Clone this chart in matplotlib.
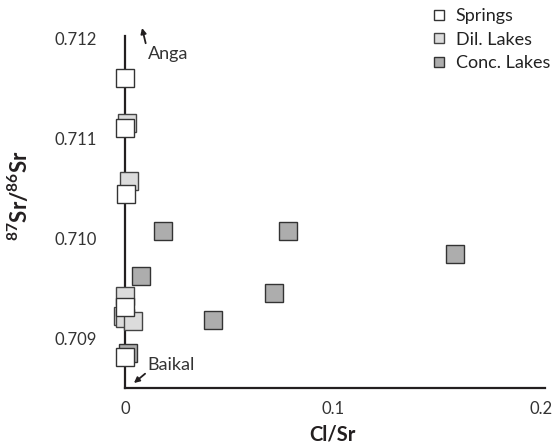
import matplotlib.pyplot as plt

plt.rcParams['font.family'] = ['Lato', 'DejaVu Sans']
plt.rcParams['mathtext.fontset'] = 'custom'
plt.rcParams['mathtext.rm'] = 'Lato'
plt.rcParams['mathtext.bf'] = 'Lato:bold'

# Cl/Sr vs 87Sr/86Sr
conc_x = [0.0015, 0.0183, 0.0784, 0.0077, 0.1587, 0.0719, 0.0423]
conc_y = [0.70885, 0.71007, 0.71007, 0.70962, 0.70984, 0.70945, 0.70918]

dil_x = [0.001, 0.002, 0.0, -0.001, 0.0, 0.004]
dil_y = [0.71115, 0.71057, 0.70942, 0.70922, 0.70920, 0.70917]

spr_x = [0.0, 0.0, 0.0005, 0.0, 0.0]
spr_y = [0.7116, 0.7111, 0.71044, 0.70931, 0.70881]

dark = '#231f20'
fig = plt.figure(figsize=(5.57, 4.44), dpi=100)
ax = fig.add_axes([0.2244, 0.1261, 0.754, 0.7928])

ms = 13
ax.plot(conc_x, conc_y, 's', ms=ms, mfc='#adadad', mec='#333333', mew=1.0,
        ls='none', clip_on=False, label='Conc. Lakes', zorder=3)
ax.plot(dil_x, dil_y, 's', ms=ms, mfc='#dcdcdc', mec='#444444', mew=1.0,
        ls='none', clip_on=False, label='Dil. Lakes', zorder=4)
ax.plot(spr_x, spr_y, 's', ms=ms, mfc='white', mec='#333333', mew=1.0,
        ls='none', clip_on=False, label='Springs', zorder=5)

ax.set_xlim(0, 0.202)
ax.set_ylim(0.7085, 0.71202)
ax.set_xticks([0, 0.1, 0.2])
ax.set_xticklabels(['0', '0.1', '0.2'])
ax.set_yticks([0.709, 0.710, 0.711, 0.712])
ax.set_yticklabels(['0.709', '0.710', '0.711', '0.712'])
ax.tick_params(length=0, labelsize=12, colors='#333333')
ax.tick_params(axis='y', pad=20)
ax.tick_params(axis='x', pad=9)

for s in ['top', 'right']:
    ax.spines[s].set_visible(False)
for s in ['left', 'bottom']:
    ax.spines[s].set_linewidth(1.6)
    ax.spines[s].set_color(dark)

ax.set_xlabel('Cl/Sr', fontsize=14.5, fontweight='bold', color=dark)
ax.xaxis.set_label_coords(0.493, -0.104)
ax.set_ylabel(r'$\mathbf{^{87}Sr/^{86}Sr}$', fontsize=16, color=dark)
ax.yaxis.set_label_coords(-0.222, 0.548)

ax.annotate('Anga', xy=(0.0082, 0.71210), xytext=(0.0110, 0.71184),
            fontsize=13, color='#333333', va='center', ha='left',
            arrowprops=dict(arrowstyle='-|>', color=dark, lw=1.3,
                            mutation_scale=8, shrinkA=0, shrinkB=0,
                            relpos=(0, 0.6)),
            annotation_clip=False)
ax.annotate('Baikal', xy=(0.0043, 0.70855), xytext=(0.0110, 0.70873),
            fontsize=13, color='#333333', va='center', ha='left',
            arrowprops=dict(arrowstyle='-|>', color=dark, lw=1.3,
                            mutation_scale=8, shrinkA=0, shrinkB=0,
                            relpos=(0, 0.1)),
            annotation_clip=False)

h, l = ax.get_legend_handles_labels()
fig.legend(h[::-1], l[::-1], loc='upper left', bbox_to_anchor=(0.7745, 0.982),
           frameon=False, fontsize=13, markerscale=0.52, handlelength=0.85,
           handletextpad=0.5, borderpad=0, borderaxespad=0, labelspacing=0.42,
           labelcolor='#222222')

fig.savefig('out.png', dpi=100)
